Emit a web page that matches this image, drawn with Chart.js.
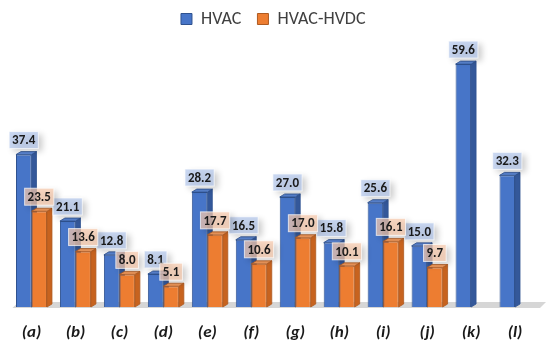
<!DOCTYPE html>
<html>
<head>
<meta charset="utf-8">
<script src="https://cdn.jsdelivr.net/npm/chart.js@4.4.1/dist/chart.umd.min.js"></script>
<style>
  body { margin: 0; background: #ffffff; }
</style>
</head>
<body>
<canvas id="grafico" width="550" height="349"></canvas>
<script>
const categorias = ['(a)', '(b)', '(c)', '(d)', '(e)', '(f)', '(g)', '(h)', '(i)', '(j)', '(k)', '(l)'];
const hvac = [37.4, 21.1, 12.8, 8.1, 28.2, 16.5, 27.0, 15.8, 25.6, 15.0, 59.6, 32.3];
const hvacHvdc = [23.5, 13.6, 8.0, 5.1, 17.7, 10.6, 17.0, 10.1, 16.1, 9.7, null, null];

const FONTE = 'Carlito, Lato, sans-serif';
const DX = 5, DY = 3; // profundidade do efeito 3D

// faces laterais, topo e o "chao" do grafico
const barras3d = {
    id: 'barras3d',
    beforeDatasetsDraw(chart) {
        const { ctx, chartArea, scales } = chart;
        const base = scales.y.getPixelForValue(0);
        ctx.save();
        ctx.fillStyle = '#d6d6d6';
        ctx.beginPath();
        ctx.moveTo(chartArea.left + 3, base + 1);
        ctx.lineTo(chartArea.right + 3, base + 1);
        ctx.lineTo(chartArea.right + 9, base - 5);
        ctx.lineTo(chartArea.left + 9, base - 5);
        ctx.closePath();
        ctx.fill();

        chart.data.datasets.forEach((ds, di) => {
            const meta = chart.getDatasetMeta(di);
            meta.data.forEach((bar, i) => {
                if (ds.data[i] == null) return;
                const { x, y, width, base: b } = bar.getProps(['x', 'y', 'width', 'base'], true);
                const l = x - width / 2, r = x + width / 2;
                ctx.lineWidth = 0.8;
                ctx.strokeStyle = ds.borderColor;
                // lateral
                ctx.fillStyle = ds.corLateral;
                ctx.beginPath();
                ctx.moveTo(r, y);
                ctx.lineTo(r + DX, y - DY);
                ctx.lineTo(r + DX, b - DY);
                ctx.lineTo(r, b);
                ctx.closePath();
                ctx.fill();
                ctx.stroke();
                // topo
                ctx.fillStyle = ds.corTopo;
                ctx.beginPath();
                ctx.moveTo(l, y);
                ctx.lineTo(r, y);
                ctx.lineTo(r + DX, y - DY);
                ctx.lineTo(l + DX, y - DY);
                ctx.closePath();
                ctx.fill();
                ctx.stroke();
            });
        });
        ctx.restore();
    }
};

// rotulos de valor com caixa semi-transparente
const rotulos = {
    id: 'rotulos',
    afterDatasetsDraw(chart) {
        const { ctx } = chart;
        ctx.save();
        ctx.font = 'bold 13px ' + FONTE;
        ctx.textAlign = 'center';
        ctx.textBaseline = 'middle';
        chart.data.datasets.forEach((ds, di) => {
            const meta = chart.getDatasetMeta(di);
            meta.data.forEach((bar, i) => {
                const v = ds.data[i];
                if (v == null) return;
                const { x, y } = bar.getProps(['x', 'y'], true);
                const txt = v.toFixed(1);
                const w = ctx.measureText(txt).width + 6;
                const h = 17;
                const bx = x - w / 2, by = y - 6 - h;
                ctx.save();
                ctx.shadowColor = 'rgba(0,0,0,0.28)';
                ctx.shadowBlur = 6;
                ctx.shadowOffsetX = 4;
                ctx.shadowOffsetY = 3;
                ctx.fillStyle = ds.corRotulo;
                ctx.fillRect(bx, by, w, h);
                ctx.restore();
                ctx.strokeStyle = 'rgba(255,255,255,0.7)';
                ctx.lineWidth = 1;
                ctx.strokeRect(bx, by, w, h);
                ctx.fillStyle = '#1a1a1a';
                ctx.fillText(txt, x, by + h / 2 + 1);
            });
        });
        ctx.restore();
    }
};

new Chart(document.getElementById('grafico'), {
    type: 'bar',
    data: {
        labels: categorias,
        datasets: [{
            label: 'HVAC',
            data: hvac,
            backgroundColor: '#4775c8',
            borderColor: '#2f528f',
            borderWidth: 1,
            corLateral: '#34589a',
            corTopo: '#5b86d4',
            corRotulo: 'rgba(180,199,235,0.72)'
        }, {
            label: 'HVAC-HVDC',
            data: hvacHvdc,
            backgroundColor: '#ed7d31',
            borderColor: '#ae5a21',
            borderWidth: 1,
            corLateral: '#c7631f',
            corTopo: '#f29a5c',
            corRotulo: 'rgba(248,203,173,0.72)'
        }]
    },
    options: {
        responsive: false,
        animation: false,
        categoryPercentage: 0.705,
        barPercentage: 1,
        layout: {
            padding: { left: 9.5, right: 13, top: -6, bottom: 0 }
        },
        plugins: {
            legend: {
                position: 'top',
                labels: {
                    boxWidth: 11,
                    boxHeight: 11,
                    padding: 16,
                    color: '#404040',
                    font: { family: FONTE, size: 18 }
                }
            },
            tooltip: { enabled: false }
        },
        scales: {
            y: {
                display: false,
                min: 0,
                max: 66
            },
            x: {
                grid: { display: false, drawTicks: false },
                border: { display: false },
                afterFit(scale) { scale.height = 42; },
                ticks: {
                    color: '#1a1a1a',
                    padding: 16,
                    font: { family: FONTE, size: 17, weight: 'bold', style: 'italic' }
                }
            }
        }
    },
    plugins: [barras3d, rotulos]
});
</script>
</body>
</html>
